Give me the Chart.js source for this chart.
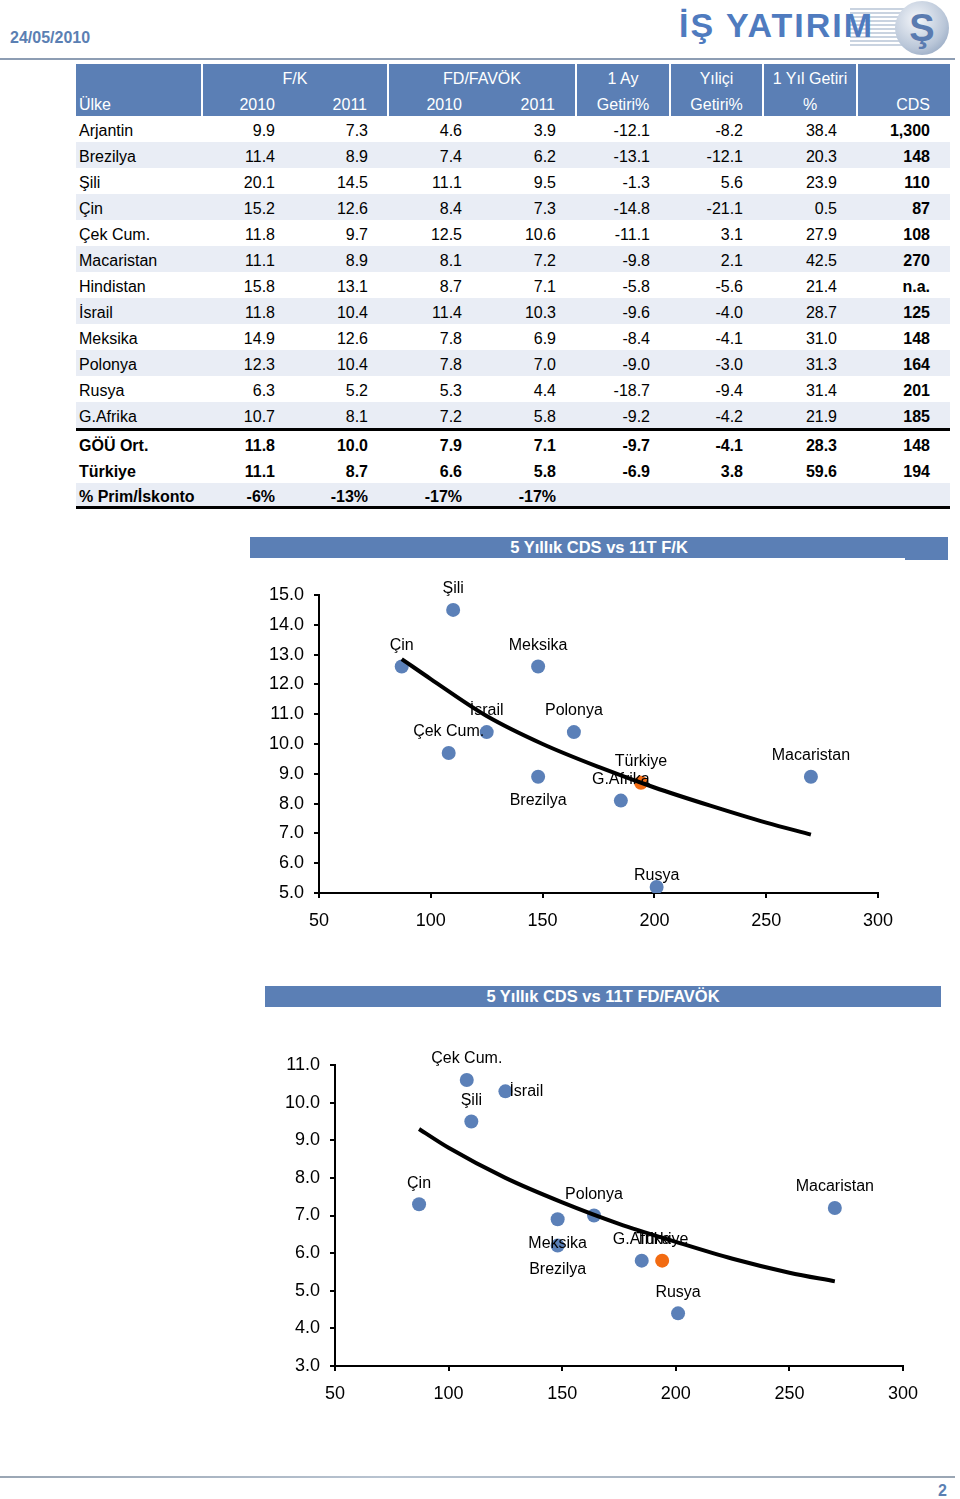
<!DOCTYPE html>
<html>
<head>
<meta charset="utf-8">
<script src="https://cdn.jsdelivr.net/npm/chart.js@4.4.1/dist/chart.umd.min.js"></script>
<style>
  body { margin: 0; width: 960px; height: 1499px; background: #fff; position: relative; font-family: "Liberation Sans", Arial, sans-serif; overflow: hidden; }
  .abs { position: absolute; }
  #date { left: 10px; top: 29px; font-weight: bold; font-size: 16px; color: #5b7fb3; }
  #hrule { left: 0; top: 58px; width: 955px; height: 2px; background: #8d9db3; }
  #logoText { left: 679px; top: 6px; font-weight: bold; font-size: 34px; color: #4f7bbf; letter-spacing: 2px; }
  #stripes { left: 850px; top: 8px; width: 60px; height: 40px;
    background: repeating-linear-gradient(to bottom, #c9d3e0 0 2px, #fff 2px 4px); }
  #logoCircle { left: 895px; top: 1px; width: 54px; height: 54px; border-radius: 50%;
    background: radial-gradient(circle at 40% 35%, #f4f6fa 0%, #b9c6d8 60%, #7f95b5 100%);
    color: #5a7bb0; font-size: 38px; font-weight: bold; text-align: center; line-height: 54px; }
  #tbl { left: 76px; top: 64px; border-collapse: collapse; table-layout: fixed; width: 874px; font-size: 16px; }
  #tbl td { padding: 0; white-space: nowrap; overflow: hidden; }
  #tbl td span { position: relative; top: 2px; }
  #tbl .hd td { background: #5b7fb5; color: #fff; height: 26px; }
  #tbl .hd td.sep { border-right: 2px solid #fff; }
  #tbl td.num { text-align: right; padding-right: 20px; }
  #tbl td.name { padding-left: 3px; }
  #tbl td.ctr { text-align: center; }
  #tbl tr.row td { height: 26px; color: #000; }
  #tbl tr.shade td { background: #e9edf5; }
  #tbl tr.sum td { font-weight: bold; }
  #tbl tr.topline td { border-top: 3px solid #000; }
  #tbl tr.botline td { border-bottom: 3px solid #000; }
  .titlebar { background: #5b7fb5; color: #fff; font-weight: bold; font-size: 16.5px; text-align: center; }
  #foot { left: 0; top: 1476px; width: 955px; height: 2px; background: linear-gradient(to right, #9aa6b4, #b8c3d0 40%, #9aa6b4); }
  #pg { left: 938px; top: 1482px; font-weight: bold; font-size: 16px; color: #5b7fb3; }
</style>
</head>
<body>
<div id="date" class="abs">24/05/2010</div>
<div id="stripes" class="abs"></div>
<div id="logoText" class="abs">İŞ YATIRIM</div>
<div id="logoCircle" class="abs">Ş</div>
<div id="hrule" class="abs"></div>

<table id="tbl" class="abs">
  <colgroup>
    <col style="width:126px"><col style="width:93px"><col style="width:93px"><col style="width:94px"><col style="width:94px">
    <col style="width:94px"><col style="width:93px"><col style="width:94px"><col style="width:93px">
  </colgroup>
  <tbody id="tbody"></tbody>
</table>

<div class="abs titlebar" style="left:250px;top:537px;width:698px;height:21px;line-height:21px;">5 Yıllık CDS vs 11T F/K</div>
<div class="abs" style="left:905px;top:557px;width:43px;height:3px;background:#5b7fb5;"></div>
<canvas id="chart1" class="abs" width="680" height="370" style="left:250px;top:570px;"></canvas>

<div class="abs titlebar" style="left:265px;top:986px;width:676px;height:21px;line-height:21px;">5 Yıllık CDS vs 11T FD/FAVÖK</div>
<canvas id="chart2" class="abs" width="680" height="380" style="left:265px;top:1040px;"></canvas>

<div id="foot" class="abs"></div>
<div id="pg" class="abs">2</div>

<script>
  // Table data
  const countries = ['Arjantin', 'Brezilya', 'Şili', 'Çin', 'Çek Cum.', 'Macaristan', 'Hindistan', 'İsrail', 'Meksika', 'Polonya', 'Rusya', 'G.Afrika'];
  const fk2010 = [9.9, 11.4, 20.1, 15.2, 11.8, 11.1, 15.8, 11.8, 14.9, 12.3, 6.3, 10.7];
  const fk2011 = [7.3, 8.9, 14.5, 12.6, 9.7, 8.9, 13.1, 10.4, 12.6, 10.4, 5.2, 8.1];
  const fd2010 = [4.6, 7.4, 11.1, 8.4, 12.5, 8.1, 8.7, 11.4, 7.8, 7.8, 5.3, 7.2];
  const fd2011 = [3.9, 6.2, 9.5, 7.3, 10.6, 7.2, 7.1, 10.3, 6.9, 7.0, 4.4, 5.8];
  const ret1m = [-12.1, -13.1, -1.3, -14.8, -11.1, -9.8, -5.8, -9.6, -8.4, -9.0, -18.7, -9.2];
  const retYtd = [-8.2, -12.1, 5.6, -21.1, 3.1, 2.1, -5.6, -4.0, -4.1, -3.0, -9.4, -4.2];
  const ret1y = [38.4, 20.3, 23.9, 0.5, 27.9, 42.5, 21.4, 28.7, 31.0, 31.3, 31.4, 21.9];
  const cdsText = ['1,300', '148', '110', '87', '108', '270', 'n.a.', '125', '148', '164', '201', '185'];

  const gouRow = [11.8, 10.0, 7.9, 7.1, -9.7, -4.1, 28.3, '148'];
  const turRow = [11.1, 8.7, 6.6, 5.8, -6.9, 3.8, 59.6, '194'];
  const premRow = ['-6%', '-13%', '-17%', '-17%'];

  // Scatter data (x = 5y CDS)
  const scatterNames = ['Brezilya', 'Şili', 'Çin', 'Çek Cum.', 'Macaristan', 'İsrail', 'Meksika', 'Polonya', 'Rusya', 'G.Afrika', 'Türkiye'];
  const scatterCds = [148, 110, 87, 108, 270, 125, 148, 164, 201, 185, 194];
  const scatterFk11 = [8.9, 14.5, 12.6, 9.7, 8.9, 10.4, 12.6, 10.4, 5.2, 8.1, 8.7];
  const scatterFd11 = [6.2, 9.5, 7.3, 10.6, 7.2, 10.3, 6.9, 7.0, 4.4, 5.8, 5.8];

  // Trend lines
  const trendCds = [87, 100, 125, 150, 175, 200, 225, 250, 270];
  const trendFk = [12.85, 12.18, 10.94, 10.0, 9.23, 8.54, 7.93, 7.36, 6.96];
  const trendFd = [9.30, 8.80, 8.00, 7.35, 6.78, 6.30, 5.85, 5.48, 5.25];

  const fmt = v => (typeof v === 'number' ? v.toFixed(1) : v);
  const sp = t => '<span>' + t + '</span>';

  // build table
  const tb = document.getElementById('tbody');
  tb.innerHTML =
    '<tr class="hd"><td class="sep"></td><td class="ctr sep" colspan="2">' + sp('F/K') + '</td><td class="ctr sep" colspan="2">' + sp('FD/FAVÖK') + '</td>' +
    '<td class="ctr sep">' + sp('1 Ay') + '</td><td class="ctr sep">' + sp('Yıliçi') + '</td><td class="ctr sep">' + sp('1 Yıl Getiri') + '</td><td></td></tr>' +
    '<tr class="hd"><td class="name sep">' + sp('Ülke') + '</td><td class="num">' + sp('2010') + '</td><td class="num sep">' + sp('2011') + '</td>' +
    '<td class="num">' + sp('2010') + '</td><td class="num sep">' + sp('2011') + '</td>' +
    '<td class="ctr sep">' + sp('Getiri%') + '</td><td class="ctr sep">' + sp('Getiri%') + '</td><td class="ctr sep">' + sp('%') + '</td><td class="num">' + sp('CDS') + '</td></tr>';
  countries.forEach((c, i) => {
    const tr = document.createElement('tr');
    tr.className = 'row' + (i % 2 === 1 ? ' shade' : '');
    const vals = [fk2010[i], fk2011[i], fd2010[i], fd2011[i], ret1m[i], retYtd[i], ret1y[i]];
    tr.innerHTML = '<td class="name">' + sp(c) + '</td>' +
      vals.map(v => '<td class="num">' + sp(fmt(v)) + '</td>').join('') +
      '<td class="num" style="font-weight:bold">' + sp(cdsText[i]) + '</td>';
    tb.appendChild(tr);
  });
  function sumRow(name, vals, cls) {
    const tr = document.createElement('tr');
    tr.className = 'row sum ' + cls;
    let cells = '<td class="name">' + sp(name) + '</td>';
    for (let k = 0; k < 8; k++) cells += '<td class="num">' + (vals[k] !== undefined ? sp(fmt(vals[k])) : '') + '</td>';
    tr.innerHTML = cells;
    tb.appendChild(tr);
  }
  sumRow('GÖÜ Ort.', gouRow, 'topline');
  sumRow('Türkiye', turRow, '');
  sumRow('% Prim/İskonto', premRow, 'shade botline');
  tb.lastChild.querySelectorAll('td').forEach(td => td.style.height = '23px');

  // point labels
  const pointNamesPlugin = {
    id: 'pointNames',
    afterDatasetsDraw(chart, args, opts) {
      const ctx = chart.ctx;
      const meta = chart.getDatasetMeta(1);
      ctx.save();
      ctx.font = '16px "Liberation Sans", Arial, sans-serif';
      ctx.fillStyle = '#000';
      ctx.textBaseline = 'middle';
      meta.data.forEach((el, i) => {
        const name = opts.names[i];
        const place = opts.place[name] || 'above';
        if (place === 'right') {
          ctx.textAlign = 'left';
          ctx.fillText(name, el.x + 4, el.y);
        } else if (place === 'below') {
          ctx.textAlign = 'center';
          ctx.fillText(name, el.x, el.y + 24);
        } else if (place === 'near') {
          ctx.textAlign = 'center';
          ctx.fillText(name, el.x, el.y - 11);
        } else {
          ctx.textAlign = 'center';
          ctx.fillText(name, el.x, el.y - 21);
        }
      });
      ctx.restore();
    }
  };

  function axisOpts(min, max, step, extra) {
    return Object.assign({
      type: 'linear',
      min: min,
      max: max,
      ticks: { stepSize: step, color: '#000', font: { size: 18, family: '"Liberation Sans", Arial, sans-serif' } },
      grid: { drawOnChartArea: false, drawTicks: true, tickLength: 5, color: '#000', lineWidth: 2 },
      border: { display: true, color: '#000', width: 2 }
    }, extra);
  }

  function makeChart(id, yVals, trendY, yMin, yMax, yAxisW, xAxisH, padRight, place) {
    const pts = scatterCds.map((x, i) => ({ x: x, y: yVals[i] }));
    const line = trendCds.map((x, i) => ({ x: x, y: trendY[i] }));
    const colors = scatterNames.map(n => (n === 'Türkiye' ? '#f26b12' : '#5b80b8'));
    const xAx = axisOpts(50, 300, 50, { afterFit(s) { s.height = xAxisH; } });
    xAx.ticks.padding = 12;
    const yAx = axisOpts(yMin, yMax, 1, { afterFit(s) { s.width = yAxisW; } });
    yAx.ticks.padding = 10;
    yAx.ticks.callback = v => v.toFixed(1);
    return new Chart(document.getElementById(id).getContext('2d'), {
      type: 'scatter',
      data: {
        datasets: [
          {
            type: 'line',
            data: line,
            borderColor: '#000',
            borderWidth: 4,
            pointRadius: 0,
            cubicInterpolationMode: 'monotone',
            fill: false,
            order: 0
          },
          {
            data: pts,
            backgroundColor: colors,
            borderWidth: 0,
            pointRadius: 7,
            order: 1
          }
        ]
      },
      options: {
        responsive: false,
        animation: false,
        layout: { padding: { top: 25, right: padRight, left: 0, bottom: 0 } },
        scales: { x: xAx, y: yAx },
        plugins: {
          legend: { display: false },
          tooltip: { enabled: false },
          pointNames: { names: scatterNames, place: place }
        }
      },
      plugins: [pointNamesPlugin]
    });
  }

  makeChart('chart1', scatterFk11, trendFk, 5, 15, 69, 47, 52, { 'Brezilya': 'below', 'Rusya': 'near' });
  makeChart('chart2', scatterFd11, trendFd, 3, 11, 70, 54, 42, { 'Meksika': 'below', 'Brezilya': 'below', 'İsrail': 'right' });
</script>
</body>
</html>
